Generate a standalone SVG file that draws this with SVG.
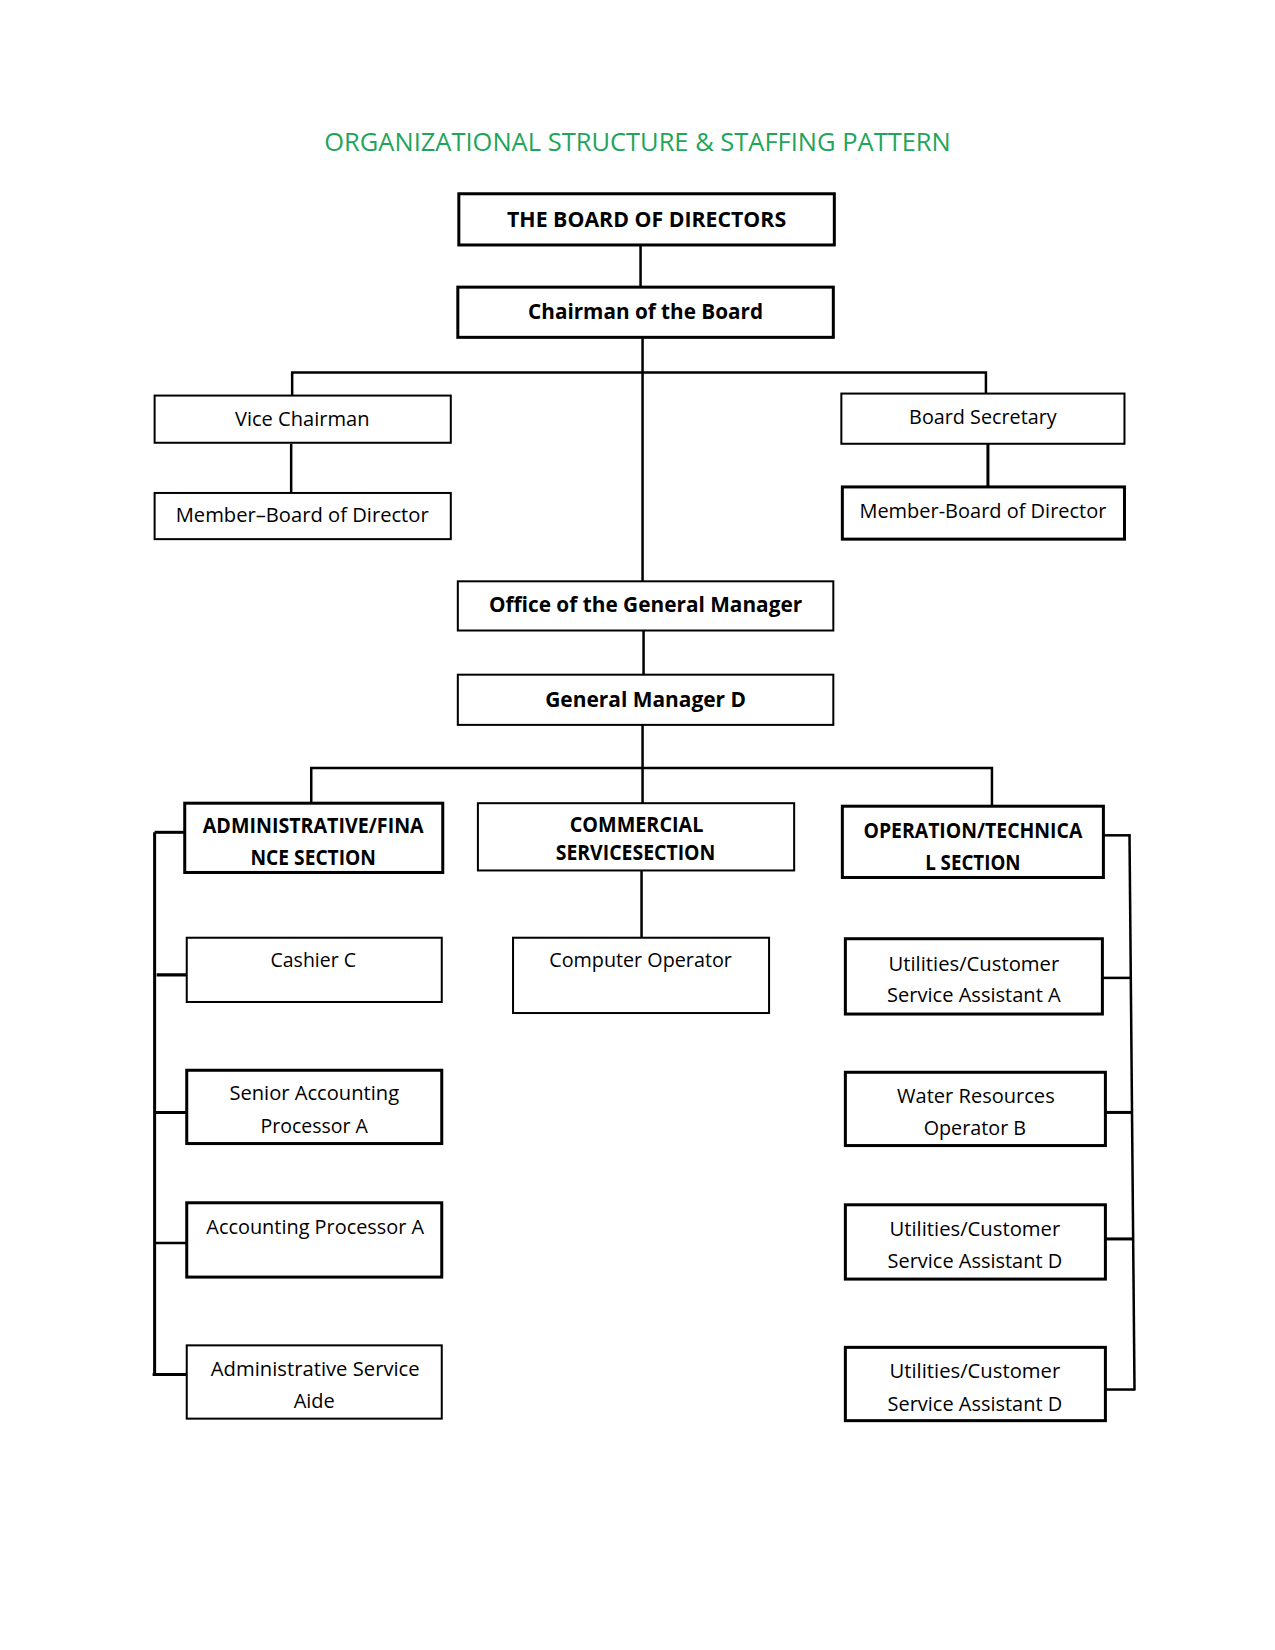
<svg xmlns="http://www.w3.org/2000/svg" width="1275" height="1650" viewBox="0 0 1275 1650">
<style>
.bg{fill:#fff}
.box{fill:#fff;stroke:#000}
.b3{stroke-width:3}
.b2{stroke-width:2}
.ln{fill:none;stroke:#000;stroke-width:2.5}
.t{font-family:"Open Sans","Liberation Sans",sans-serif;font-size:19px;fill:#000;text-anchor:middle}
.tb{font-family:"Open Sans","Liberation Sans",sans-serif;font-size:21px;font-weight:bold;fill:#000;text-anchor:middle}
.title{font-family:"Open Sans","Liberation Sans",sans-serif;font-size:26px;fill:#1fa55a;text-anchor:middle}
</style>
<rect class="bg" x="0" y="0" width="1275" height="1650"/>
<g transform="translate(0,1) scale(1.004)">
<text class="title" x="635" y="149" textLength="624" lengthAdjust="spacingAndGlyphs">ORGANIZATIONAL STRUCTURE &amp; STAFFING PATTERN</text>

<g id="connectors">
<path class="ln" d="M638 243 V285"/>
<path class="ln" d="M640 335 V578"/>
<path class="ln" d="M291 393 V370 H982 V391"/>
<path class="ln" d="M290 441 V490"/>
<path class="ln" d="M984 441 V484" style="stroke-width:3"/>
<path class="ln" d="M641 627 V671"/>
<path class="ln" d="M640 721 V799"/>
<path class="ln" d="M310 799 V764 H988 V802"/>
<path class="ln" d="M639 866 V933"/>
<path class="ln" d="M154 828 V1368" style="stroke-width:3"/>
<path class="ln" d="M154 828 H184" style="stroke-width:3"/>
<path class="ln" d="M156 970 H189" style="stroke-width:3"/>
<path class="ln" d="M154 1107 H186" style="stroke-width:3"/>
<path class="ln" d="M154 1237 H186"/>
<path class="ln" d="M152 1368 H186" style="stroke-width:3"/>
<path class="ln" d="M1125 830 L1130 1384"/>
<path class="ln" d="M1099 831 H1126"/>
<path class="ln" d="M1098 973 H1126"/>
<path class="ln" d="M1101 1107 H1128" style="stroke-width:3"/>
<path class="ln" d="M1101 1233 H1129" style="stroke-width:3"/>
<path class="ln" d="M1101 1383 H1130"/>
</g>

<g id="board"><rect class="box b3" x="457" y="192" width="374" height="51"/><text class="tb" x="644" y="225" textLength="278" lengthAdjust="spacingAndGlyphs">THE BOARD OF DIRECTORS</text></g>
<g id="chairman"><rect class="box b3" x="456" y="285" width="374" height="50"/><text class="tb" x="643" y="317" textLength="234" lengthAdjust="spacingAndGlyphs">Chairman of the Board</text></g>
<g id="vice"><rect class="box b2" x="154" y="393" width="295" height="47"/><text class="t" x="301" y="423" textLength="134" lengthAdjust="spacingAndGlyphs">Vice Chairman</text></g>
<g id="member-left"><rect class="box b2" x="154" y="490" width="295" height="46"/><text class="t" x="301" y="519" textLength="252" lengthAdjust="spacingAndGlyphs">Member–Board of Director</text></g>
<g id="secretary"><rect class="box b2" x="838" y="391" width="282" height="50"/><text class="t" x="979" y="421" textLength="147" lengthAdjust="spacingAndGlyphs">Board Secretary</text></g>
<g id="member-right"><rect class="box b3" x="839" y="484" width="281" height="52"/><text class="t" x="979" y="515" textLength="246" lengthAdjust="spacingAndGlyphs">Member-Board of Director</text></g>
<g id="office-gm"><rect class="box b2" x="456" y="578" width="374" height="49"/><text class="tb" x="643" y="609" textLength="312" lengthAdjust="spacingAndGlyphs">Office of the General Manager</text></g>
<g id="gm"><rect class="box b2" x="456" y="671" width="374" height="50"/><text class="tb" x="643" y="703" textLength="200" lengthAdjust="spacingAndGlyphs">General Manager D</text></g>

<g id="admin"><rect class="box b3" x="184" y="799" width="257" height="69"/><text class="tb" x="312" y="829" textLength="220" lengthAdjust="spacingAndGlyphs">ADMINISTRATIVE/FINA</text><text class="tb" x="312" y="861" textLength="125" lengthAdjust="spacingAndGlyphs">NCE SECTION</text></g>
<g id="commercial"><rect class="box b2" x="476" y="799" width="315" height="67"/><text class="tb" x="634" y="828" textLength="133" lengthAdjust="spacingAndGlyphs">COMMERCIAL</text><text class="tb" x="633" y="856" textLength="159" lengthAdjust="spacingAndGlyphs">SERVICESECTION</text></g>
<g id="operation"><rect class="box b3" x="839" y="802" width="260" height="71"/><text class="tb" x="969" y="834" textLength="218" lengthAdjust="spacingAndGlyphs">OPERATION/TECHNICA</text><text class="tb" x="969" y="866" textLength="95" lengthAdjust="spacingAndGlyphs">L SECTION</text></g>

<g id="computer-operator"><rect class="box b2" x="511" y="933" width="255" height="75"/><text class="t" x="638" y="962" textLength="182" lengthAdjust="spacingAndGlyphs">Computer Operator</text></g>

<g id="cashier"><rect class="box b2" x="186" y="933" width="254" height="64"/><text class="t" x="312" y="962" textLength="85" lengthAdjust="spacingAndGlyphs">Cashier C</text></g>
<g id="senior-accounting"><rect class="box b3" x="186" y="1065" width="254" height="73"/><text class="t" x="313" y="1095" textLength="169" lengthAdjust="spacingAndGlyphs">Senior Accounting</text><text class="t" x="313" y="1127" textLength="107" lengthAdjust="spacingAndGlyphs">Processor A</text></g>
<g id="accounting"><rect class="box b3" x="186" y="1197" width="254" height="74"/><text class="t" x="314" y="1228" textLength="217" lengthAdjust="spacingAndGlyphs">Accounting Processor A</text></g>
<g id="admin-aide"><rect class="box b2" x="186" y="1339" width="254" height="73"/><text class="t" x="314" y="1370" textLength="208" lengthAdjust="spacingAndGlyphs">Administrative Service</text><text class="t" x="313" y="1401" textLength="41" lengthAdjust="spacingAndGlyphs">Aide</text></g>

<g id="util-a"><rect class="box b3" x="842" y="934" width="256" height="75"/><text class="t" x="970" y="966" textLength="170" lengthAdjust="spacingAndGlyphs">Utilities/Customer</text><text class="t" x="970" y="997" textLength="173" lengthAdjust="spacingAndGlyphs">Service Assistant A</text></g>
<g id="water"><rect class="box b3" x="842" y="1067" width="259" height="73"/><text class="t" x="972" y="1098" textLength="157" lengthAdjust="spacingAndGlyphs">Water Resources</text><text class="t" x="971" y="1129" textLength="102" lengthAdjust="spacingAndGlyphs">Operator B</text></g>
<g id="util-d1"><rect class="box b3" x="842" y="1199" width="259" height="74"/><text class="t" x="971" y="1230" textLength="170" lengthAdjust="spacingAndGlyphs">Utilities/Customer</text><text class="t" x="971" y="1262" textLength="174" lengthAdjust="spacingAndGlyphs">Service Assistant D</text></g>
<g id="util-d2"><rect class="box b3" x="842" y="1341" width="259" height="73"/><text class="t" x="971" y="1372" textLength="170" lengthAdjust="spacingAndGlyphs">Utilities/Customer</text><text class="t" x="971" y="1404" textLength="174" lengthAdjust="spacingAndGlyphs">Service Assistant D</text></g>
</g>
</svg>
